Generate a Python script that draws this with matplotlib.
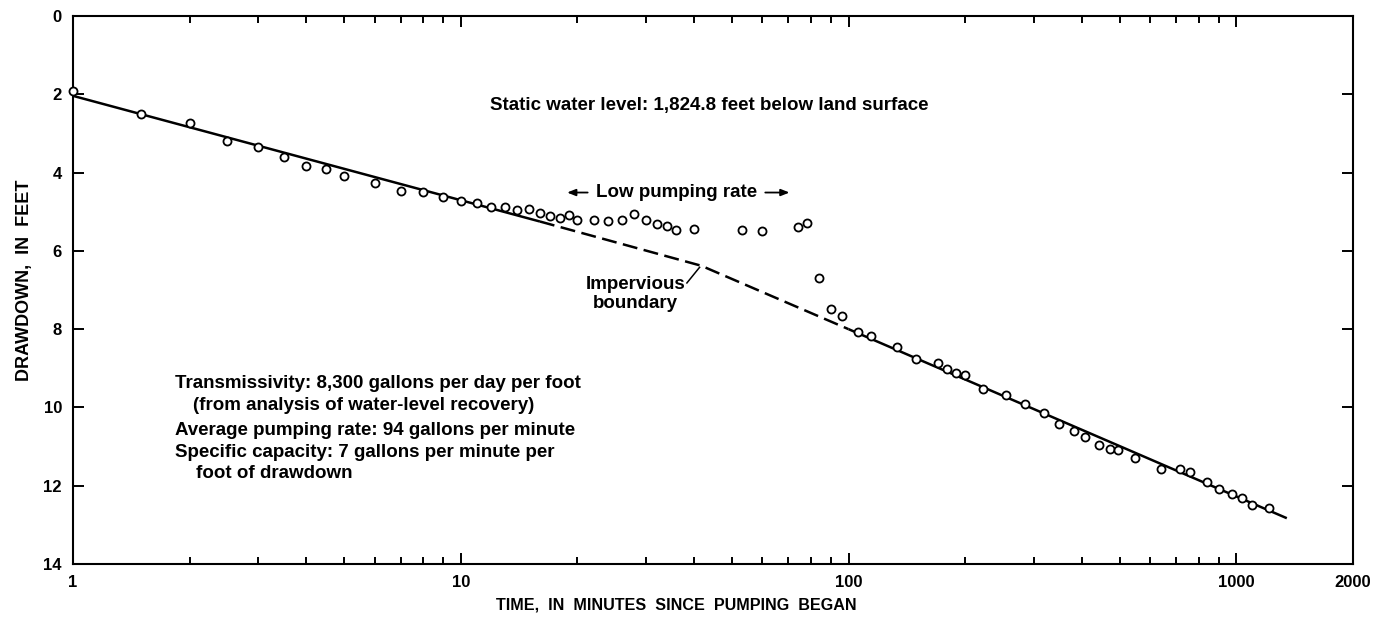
import matplotlib
matplotlib.use("agg")
import matplotlib.pyplot as plt

# observed drawdown (time in minutes, drawdown in feet)
time_min = [1, 1.5, 2, 2.5, 3, 3.5, 4, 4.5, 5, 6, 7, 8, 9,
            10, 11, 12, 13, 14, 15, 16, 17, 18, 19, 20, 22, 24, 26, 28,
            30, 32, 34, 36, 40, 53, 60, 74, 78, 84, 90, 96, 106, 114,
            133, 149, 170, 179, 189, 200, 222, 255, 285, 320, 350, 381,
            408, 442, 472, 495, 547, 640, 717, 760, 838, 903, 975, 1032,
            1101, 1213]
drawdown_ft = [1.91, 2.51, 2.74, 3.2, 3.34, 3.59, 3.83, 3.9, 4.09, 4.27, 4.48, 4.5, 4.63,
               4.72, 4.79, 4.89, 4.87, 4.96, 4.94, 5.04, 5.11, 5.15, 5.09, 5.2, 5.21, 5.23, 5.2, 5.07,
               5.22, 5.31, 5.37, 5.47, 5.43, 5.46, 5.49, 5.38, 5.3, 6.69, 7.49, 7.67, 8.08, 8.18,
               8.46, 8.77, 8.87, 9.01, 9.12, 9.17, 9.52, 9.69, 9.92, 10.15, 10.42, 10.6,
               10.75, 10.95, 11.06, 11.1, 11.28, 11.57, 11.57, 11.64, 11.91, 12.09, 12.2, 12.32,
               12.48, 12.56]

# fitted straight lines (solid - dashed - solid)
fit_early_t = [1, 16]
fit_early_d = [2.04, 5.25]
fit_dashed_t = [16, 41.7, 100]
fit_dashed_d = [5.25, 6.38, 8.0]
fit_late_t = [100, 1350]
fit_late_d = [8.0, 12.83]

x_ticks = [1, 10, 100, 1000, 2000]
x_tick_labels = ['1', '10', '100', '1000', '2000']
y_ticks = [0, 2, 4, 6, 8, 10, 12, 14]

info_lines = [
    'Transmissivity: 8,300 gallons per day per foot',
    '(from analysis of water-level recovery)',
    'Average pumping rate: 94 gallons per minute',
    'Specific capacity: 7 gallons per minute per',
    'foot of drawdown',
]
info_x = [1.83, 2.035, 1.83, 1.83, 2.07]
info_y = [9.38, 9.94, 10.58, 11.14, 11.70]

FONT = 'Liberation Sans'
plt.rcParams['font.family'] = [FONT, 'DejaVu Sans']
NOTE_SIZE = 13.5

fig = plt.figure(figsize=(13.76, 6.22), dpi=100)
ax = fig.add_axes([73 / 1376, 1 - 564 / 622, 1280 / 1376, 548 / 622])

ax.plot(fit_early_t, fit_early_d, color='black', lw=1.8, solid_capstyle='butt')
ax.plot(fit_dashed_t, fit_dashed_d, color='black', lw=1.8, dashes=(6, 2.6))
ax.plot(fit_late_t, fit_late_d, color='black', lw=1.8, solid_capstyle='butt')
ax.plot(time_min, drawdown_ft, linestyle='none', marker='o', ms=5.8,
        mfc='white', mec='black', mew=1.3, zorder=3, clip_on=False)

ax.set_xscale('log')
ax.set_xlim(1, 2000)
ax.set_ylim(14, 0)
ax.set_xticks(x_ticks)
ax.set_xticklabels(x_tick_labels)
ax.set_yticks(y_ticks)

for side in ax.spines.values():
    side.set_linewidth(1.5)
ax.tick_params(which='both', direction='in', top=True, right=True, width=1.4)
ax.tick_params(which='major', length=8, labelsize=12, pad=8)
ax.tick_params(which='minor', length=5)
ax.tick_params(axis='y', which='major', pad=8)
for lab in ax.get_xticklabels() + ax.get_yticklabels():
    lab.set_fontweight('bold')

fig.text(25 / 1376, 1 - 280 / 622, 'DRAWDOWN,  IN  FEET', rotation=90,
         ha='center', va='center', fontsize=13, fontweight='bold')
fig.text(676 / 1376, 1 - 605 / 622, 'TIME,  IN  MINUTES  SINCE  PUMPING  BEGAN',
         ha='center', va='center', fontsize=11.6, fontweight='bold')

ax.text(43.8, 2.29, 'Static water level: 1,824.8 feet below land surface',
        ha='center', va='center', fontsize=NOTE_SIZE, fontweight='bold')

for txt, tx, ty in zip(info_lines, info_x, info_y):
    ax.text(tx, ty, txt, ha='left', va='center', fontsize=NOTE_SIZE, fontweight='bold')

# low pumping rate annotation
ax.text(36.1, 4.51, 'Low pumping rate', ha='center', va='center',
        fontsize=NOTE_SIZE, fontweight='bold')
arrow_style = dict(arrowstyle='-|>,head_length=0.5,head_width=0.2', color='black', lw=1.3)
ax.annotate('', xy=(18.5, 4.51), xytext=(21.6, 4.51), arrowprops=arrow_style)
ax.annotate('', xy=(71.6, 4.51), xytext=(60.0, 4.51), arrowprops=arrow_style)

# impervious boundary label and leader
ax.text(28.2, 7.1, 'Impervious\nboundary', ha='center', va='center',
        fontsize=NOTE_SIZE, fontweight='bold', linespacing=1.1)
ax.plot([38.3, 41.3], [6.82, 6.42], color='black', lw=1.1)

fig.savefig('out.png', dpi=100)
